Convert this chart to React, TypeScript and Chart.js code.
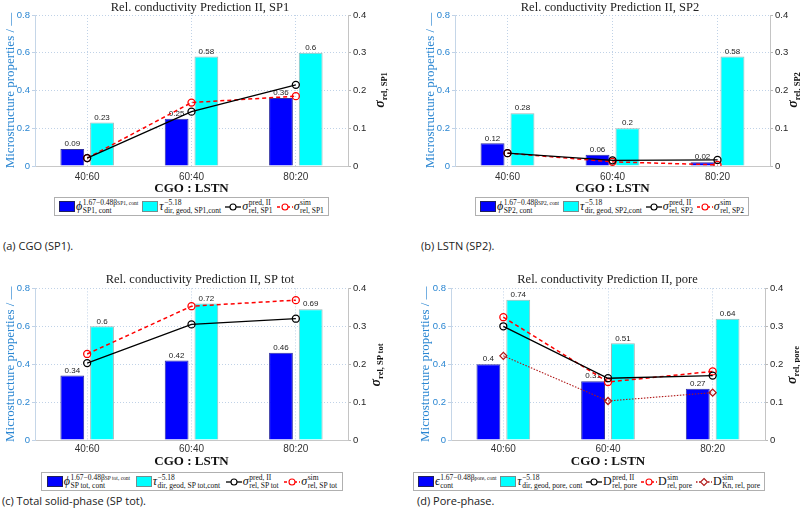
import React, { useEffect, useRef } from "react";
import { Chart, registerables } from "chart.js";
Chart.register(...registerables);

// ---------- data ----------
const categories = ["40:60", "60:40", "80:20"];
const leftTicks = [0, 0.2, 0.4, 0.6, 0.8];
const rightTicks = [0, 0.1, 0.2, 0.3, 0.4];

const sp1Phi = [0.09, 0.25, 0.36];
const sp1Tau = [0.23, 0.58, 0.6];
const sp1Pred = [0.021, 0.144, 0.215];
const sp1Sim = [0.021, 0.168, 0.185];

const sp2Phi = [0.12, 0.06, 0.02];
const sp2Tau = [0.28, 0.2, 0.58];
const sp2Pred = [0.034, 0.015, 0.016];
const sp2Sim = [0.034, 0.011, 0.003];

const totPhi = [0.34, 0.42, 0.46];
const totTau = [0.6, 0.72, 0.69];
const totPred = [0.203, 0.305, 0.32];
const totSim = [0.227, 0.353, 0.369];

const porePhi = [0.4, 0.31, 0.27];
const poreTau = [0.74, 0.51, 0.64];
const porePred = [0.3, 0.163, 0.17];
const poreSim = [0.324, 0.153, 0.181];
const poreKn = [0.222, 0.103, 0.125];

const BLUE_AX = "#2a86d2";
const SERIF = "'Liberation Serif', 'DejaVu Serif', serif";
const SANS = "'Liberation Sans', Arial, sans-serif";

type LineDef = { label: string; data: number[]; color: string; dash?: number[]; style?: string; width?: number };

const barLabels = {
  id: "barLabels",
  beforeDatasetsDraw(chart: any) {
    const ctx = chart.ctx;
    chart.data.datasets.forEach((ds: any, i: number) => {
      if (ds.type !== "bar") return;
      const meta = chart.getDatasetMeta(i);
      meta.data.forEach((el: any, j: number) => {
        ctx.save();
        ctx.font = `8px ${SANS}`;
        ctx.fillStyle = "#222";
        ctx.textAlign = "center";
        ctx.textBaseline = "bottom";
        ctx.fillText(String(ds.data[j]), el.x, el.y - 1);
        ctx.restore();
      });
    });
  },
};

function Panel(p: {
  left: number; top: number; width: number; height: number;
  leftW: number; rightW: number; xH: number; titlePad: number; tickPad: number;
  title: string; phi: number[]; tau: number[]; lines: LineDef[];
}) {
  const ref = useRef<HTMLCanvasElement>(null);
  useEffect(() => {
    const gridColor = "rgba(185,205,228,0.9)";
    const chart = new Chart(ref.current as HTMLCanvasElement, {
      type: "bar",
      data: {
        labels: categories,
        datasets: [
          { type: "bar", label: "phi", data: p.phi, backgroundColor: "#0000ff", borderColor: "#3030a0", borderWidth: 1, yAxisID: "y", order: 2, categoryPercentage: 0.57, barPercentage: 0.8 } as any,
          { type: "bar", label: "tau", data: p.tau, backgroundColor: "#00ffff", borderColor: "#9ab8b8", borderWidth: 1, yAxisID: "y", order: 2, categoryPercentage: 0.57, barPercentage: 0.8 } as any,
          ...p.lines.map((l) => ({
            type: "line", label: l.label, data: l.data, borderColor: l.color, borderWidth: l.width ?? 1.3,
            borderDash: l.dash ?? [], pointStyle: l.style ?? "circle", pointRadius: 3.5, pointBorderWidth: 1.3,
            pointBackgroundColor: "rgba(0,0,0,0)", pointBorderColor: l.color, yAxisID: "y1", order: 1, fill: false, tension: 0,
          } as any)),
        ],
      },
      options: {
        responsive: false, animation: false, maintainAspectRatio: false,
        layout: { padding: 0 },
        plugins: {
          legend: { display: false }, tooltip: { enabled: false },
          title: { display: true, text: p.title, color: "#222", font: { family: SERIF, size: 12.5, weight: "normal" }, padding: { top: 0, bottom: p.titlePad } },
        },
        scales: {
          x: {
            offset: true,
            grid: { display: true, offset: false, color: gridColor, drawTicks: false },
            border: { display: true, color: "#c8c8c8", dash: [1, 2] },
            ticks: { font: { family: SANS, size: 10 }, color: "#333", padding: p.tickPad, maxRotation: 0 },
            title: { display: true, text: "CGO : LSTN", color: "#111", font: { family: SERIF, size: 13, weight: "bold" }, padding: 0 },
            afterFit: (s: any) => { s.height = p.xH; },
          },
          y: {
            position: "left", min: 0, max: 0.8,
            afterBuildTicks: (s: any) => { s.ticks = leftTicks.map((v) => ({ value: v })); },
            ticks: { font: { family: SANS, size: 9.5 }, color: BLUE_AX, padding: 2 },
            grid: { color: gridColor, tickLength: 3, drawTicks: true },
            border: { color: "#c5d6e8", dash: [1, 2] },
            title: { display: true, text: "Microstructure properties / \u2014", color: BLUE_AX, font: { family: SERIF, size: 13 }, padding: { top: 3, bottom: 0 } },
            afterFit: (s: any) => { s.width = p.leftW; },
          },
          y1: {
            position: "right", min: 0, max: 0.4,
            afterBuildTicks: (s: any) => { s.ticks = rightTicks.map((v) => ({ value: v })); },
            ticks: { font: { family: SANS, size: 9.5 }, color: "#262626", padding: 2 },
            grid: { drawOnChartArea: false, tickLength: 3, color: "#b8b8b8" },
            border: { color: "#c4c4c4" },
            afterFit: (s: any) => { s.width = p.rightW; },
          },
        },
      } as any,
      plugins: [barLabels],
    });
    return () => chart.destroy();
  }, []);
  return (
    <div style={{ position: "absolute", left: p.left, top: p.top, width: p.width, height: p.height }}>
      <canvas ref={ref} width={p.width} height={p.height} style={{ width: p.width, height: p.height }} />
    </div>
  );
}

function Sym(p: { b: string; sup: string; sub: string; supSub?: string; italic?: boolean }) {
  return (
    <span style={{ display: "inline-flex", alignItems: "center", fontFamily: SERIF, color: "#111" }}>
      <span style={{ fontStyle: p.italic === false ? "normal" : "italic", fontSize: 12 }}>{p.b}</span>
      <span style={{ display: "inline-flex", flexDirection: "column", fontSize: 7.5, lineHeight: "8px", marginLeft: 0.5 }}>
        <span>{p.sup}{p.supSub ? <span style={{ fontSize: 5.5 }}>{p.supSub}</span> : null}</span>
        <span>{p.sub}</span>
      </span>
    </span>
  );
}

function Swatch(p: { color: string; border: string }) {
  return <span style={{ display: "inline-block", width: 14, height: 9, background: p.color, border: `1px solid ${p.border}`, marginRight: 1 }} />;
}

function LineSw(p: { color: string; dash?: string; diamond?: boolean }) {
  return (
    <svg width={16} height={10} style={{ marginRight: 1 }}>
      <line x1={0} y1={5} x2={16} y2={5} stroke={p.color} strokeWidth={1.3} strokeDasharray={p.dash} />
      {p.diamond ? (
        <polygon points="8,1.5 11.5,5 8,8.5 4.5,5" fill="white" stroke={p.color} strokeWidth={1.1} />
      ) : (
        <circle cx={8} cy={5} r={3} fill="white" stroke={p.color} strokeWidth={1.1} />
      )}
    </svg>
  );
}

function Legend(p: { left: number; top: number; width: number; children: any }) {
  return (
    <div style={{ position: "absolute", left: p.left, top: p.top, width: p.width, height: 19, boxSizing: "border-box", border: "1px solid #b0b0b0", background: "#fff", display: "flex", alignItems: "center", justifyContent: "space-around", padding: "0 2px", whiteSpace: "nowrap" }}>
      {p.children}
    </div>
  );
}

function Item(p: { children: any }) {
  return <span style={{ display: "inline-flex", alignItems: "center" }}>{p.children}</span>;
}

function RightLabel(p: { x: number; y: number; sub: string }) {
  return (
    <div style={{ position: "absolute", left: p.x, top: p.y, transform: "translate(-50%,-50%) rotate(-90deg)", whiteSpace: "nowrap", fontFamily: SERIF, fontWeight: "bold", color: "#111" }}>
      <span style={{ fontSize: 14, fontStyle: "italic" }}>{"\u03c3"}</span>
      <span style={{ fontSize: 8.5, position: "relative", top: 3 }}>{p.sub}</span>
    </div>
  );
}

function Caption(p: { x: number; y: number; text: string }) {
  return (
    <div style={{ position: "absolute", left: p.x, top: p.y, transform: "translateY(-50%)", fontFamily: "'Open Sans', sans-serif", fontSize: 11, color: "#222", whiteSpace: "nowrap" }}>{p.text}</div>
  );
}

export default function App() {
  return (
    <div style={{ position: "absolute", left: 0, top: 0, width: 800, height: 527, background: "#fff", overflow: "hidden" }}>
      <Panel left={0} top={0} width={400} height={196} leftW={35} rightW={52} xH={30} titlePad={0} tickPad={5}
        title="Rel. conductivity Prediction II, SP1" phi={sp1Phi} tau={sp1Tau}
        lines={[{ label: "pred", data: sp1Pred, color: "#000" }, { label: "sim", data: sp1Sim, color: "#ff0000", dash: [4, 3], width: 1.5 }]} />
      <Panel left={420} top={0} width={380} height={196} leftW={35} rightW={30} xH={30} titlePad={0} tickPad={5}
        title="Rel. conductivity Prediction II, SP2" phi={sp2Phi} tau={sp2Tau}
        lines={[{ label: "pred", data: sp2Pred, color: "#000" }, { label: "sim", data: sp2Sim, color: "#ff0000", dash: [4, 3], width: 1.5 }]} />
      <Panel left={0} top={272} width={400} height={197} leftW={35} rightW={52} xH={29} titlePad={1.4} tickPad={3}
        title="Rel. conductivity Prediction II, SP tot" phi={totPhi} tau={totTau}
        lines={[{ label: "pred", data: totPred, color: "#000" }, { label: "sim", data: totSim, color: "#ff0000", dash: [4, 3], width: 1.5 }]} />
      <Panel left={415} top={272} width={385} height={197} leftW={36} rightW={35} xH={29} titlePad={1.4} tickPad={3}
        title="Rel. conductivity Prediction II, pore" phi={porePhi} tau={poreTau}
        lines={[{ label: "pred", data: porePred, color: "#000" }, { label: "sim", data: poreSim, color: "#ff0000", dash: [4, 3], width: 1.5 },
          { label: "kn", data: poreKn, color: "#b01818", dash: [1.5, 1.5], style: "rectRot", width: 1.1 }]} />

      <RightLabel x={379} y={90} sub="rel, SP1" />
      <RightLabel x={792} y={90} sub="rel, SP2" />
      <RightLabel x={375} y={365} sub="rel, SP tot" />
      <RightLabel x={791} y={365} sub="rel, pore" />

      <Legend left={54} top={197} width={275}>
        <Item><Swatch color="#0000ff" border="#202060" /><Sym b={"\u03d5"} sup={"1.67\u22120.48\u03b2"} supSub="SP1, cont" sub="SP1, cont" /></Item>
        <Item><Swatch color="#00ffff" border="#709090" /><Sym b={"\u03c4"} sup={"\u22125.18"} sub="dir, geod, SP1,cont" /></Item>
        <Item><LineSw color="#000" /><Sym b={"\u03c3"} sup="pred, II" sub="rel, SP1" /></Item>
        <Item><LineSw color="#ff0000" dash="3,2" /><Sym b={"\u03c3"} sup="sim" sub="rel, SP1" /></Item>
      </Legend>
      <Legend left={475} top={197} width={274}>
        <Item><Swatch color="#0000ff" border="#202060" /><Sym b={"\u03d5"} sup={"1.67\u22120.48\u03b2"} supSub="SP2, cont" sub="SP2, cont" /></Item>
        <Item><Swatch color="#00ffff" border="#709090" /><Sym b={"\u03c4"} sup={"\u22125.18"} sub="dir, geod, SP2,cont" /></Item>
        <Item><LineSw color="#000" /><Sym b={"\u03c3"} sup="pred, II" sub="rel, SP2" /></Item>
        <Item><LineSw color="#ff0000" dash="3,2" /><Sym b={"\u03c3"} sup="sim" sub="rel, SP2" /></Item>
      </Legend>
      <Legend left={41} top={472} width={302}>
        <Item><Swatch color="#0000ff" border="#202060" /><Sym b={"\u03d5"} sup={"1.67\u22120.48\u03b2"} supSub="SP tot, cont" sub="SP tot, cont" /></Item>
        <Item><Swatch color="#00ffff" border="#709090" /><Sym b={"\u03c4"} sup={"\u22125.18"} sub="dir, geod, SP tot,cont" /></Item>
        <Item><LineSw color="#000" /><Sym b={"\u03c3"} sup="pred, II" sub="rel, SP tot" /></Item>
        <Item><LineSw color="#ff0000" dash="3,2" /><Sym b={"\u03c3"} sup="sim" sub="rel, SP tot" /></Item>
      </Legend>
      <Legend left={413} top={472} width={352}>
        <Item><Swatch color="#0000ff" border="#202060" /><Sym b={"\u03f5"} sup={"1.67\u22120.48\u03b2"} supSub="pore, cont" sub="cont" /></Item>
        <Item><Swatch color="#00ffff" border="#709090" /><Sym b={"\u03c4"} sup={"\u22125.18"} sub="dir, geod, pore, cont" /></Item>
        <Item><LineSw color="#000" /><Sym b="D" italic={false} sup="pred, II" sub="rel, pore" /></Item>
        <Item><LineSw color="#ff0000" dash="3,2" /><Sym b="D" italic={false} sup="sim" sub="rel, pore" /></Item>
        <Item><LineSw color="#b01818" dash="1.5,1.5" diamond /><Sym b="D" italic={false} sup="sim" sub="Kn, rel, pore" /></Item>
      </Legend>

      <Caption x={3} y={245} text="(a) CGO (SP1)." />
      <Caption x={421} y={245} text="(b) LSTN (SP2)." />
      <Caption x={2} y={500} text="(c) Total solid-phase (SP tot)." />
      <Caption x={417} y={500} text="(d) Pore-phase." />
    </div>
  );
}
